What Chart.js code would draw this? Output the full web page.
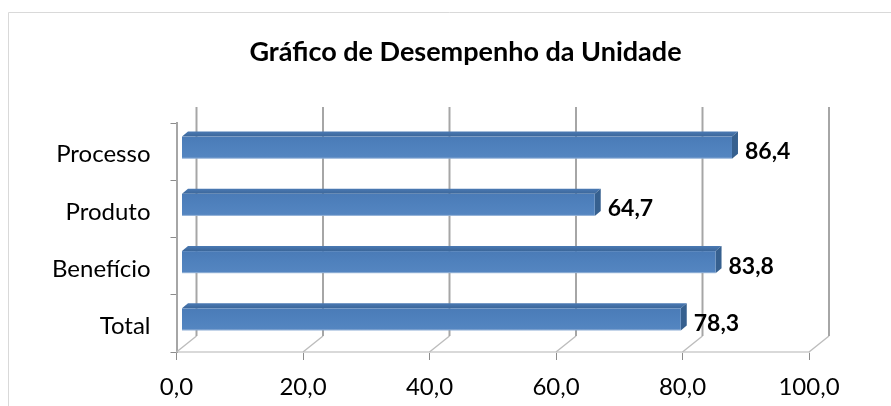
<!DOCTYPE html>
<html lang="pt">
<head>
  <meta charset="UTF-8">
  <title>Gráfico de Desempenho da Unidade</title>
  <script src="https://cdn.jsdelivr.net/npm/chart.js"></script>
  <style>
    html, body { margin: 0; padding: 0; background: #fff; }
    #wrap { width: 891px; height: 406px; }
  </style>
</head>
<body>
  <div id="wrap"><canvas id="chart" width="891" height="406"></canvas></div>

  <script>
    const categories = ['Processo', 'Produto', 'Benefício', 'Total'];
    const values = [86.4, 64.7, 83.8, 78.3];
    const xTicks = [0, 20, 40, 60, 80, 100];

    const FONT = 'Lato';
    const fmt = v => v.toFixed(1).replace('.', ',');

    // fake 3D: back wall offset and bar faces
    const wall = { dx: 20, dy: -16 };
    const bar = { start: 5, end: 9, lift: -4, dx: 6, dy: -5 };

    const frame = {
      id: 'frame',
      beforeDraw(chart) {
        const ctx = chart.ctx;
        ctx.save();
        ctx.strokeStyle = '#d9d9d9';
        ctx.lineWidth = 1;
        ctx.beginPath();
        ctx.moveTo(8.5, chart.height);
        ctx.lineTo(8.5, 12.5);
        ctx.lineTo(chart.width, 12.5);
        ctx.stroke();
        ctx.restore();
      },
      beforeDatasetsDraw(chart) {
        const { ctx, chartArea: a, scales: { x } } = chart;
        ctx.save();
        xTicks.forEach(v => {
          const fx = x.getPixelForValue(v);
          // floor
          ctx.strokeStyle = '#bdbdbd';
          ctx.lineWidth = 1.5;
          ctx.beginPath();
          ctx.moveTo(fx, a.bottom);
          ctx.lineTo(fx + wall.dx, a.bottom + wall.dy);
          ctx.stroke();
          // back wall
          ctx.strokeStyle = '#a6a6a6';
          ctx.lineWidth = 2;
          ctx.beginPath();
          ctx.moveTo(fx + wall.dx, a.bottom + wall.dy);
          ctx.lineTo(fx + wall.dx, a.top + wall.dy);
          ctx.stroke();
        });
        ctx.restore();
      },
      beforeDatasetDraw() {
        return false;
      },
      afterDatasetsDraw(chart) {
        const ctx = chart.ctx;
        const meta = chart.getDatasetMeta(0);
        ctx.save();
        meta.data.forEach((el, i) => {
          const p = el.getProps(['x', 'y', 'base', 'height'], true);
          const l = p.base + bar.start;
          const r = p.x + bar.end;
          const t = p.y - p.height / 2 + bar.lift;
          const b = t + p.height;

          // top face
          const gt = ctx.createLinearGradient(0, t + bar.dy, 0, t);
          gt.addColorStop(0, '#4a79b3');
          gt.addColorStop(1, '#3b6699');
          ctx.fillStyle = gt;
          ctx.beginPath();
          ctx.moveTo(l, t);
          ctx.lineTo(l + bar.dx, t + bar.dy);
          ctx.lineTo(r + bar.dx, t + bar.dy);
          ctx.lineTo(r, t);
          ctx.closePath();
          ctx.fill();

          // side face
          ctx.fillStyle = '#36608f';
          ctx.beginPath();
          ctx.moveTo(r, t);
          ctx.lineTo(r + bar.dx, t + bar.dy);
          ctx.lineTo(r + bar.dx, b + bar.dy);
          ctx.lineTo(r, b);
          ctx.closePath();
          ctx.fill();

          // front face
          const gf = ctx.createLinearGradient(0, t, 0, b);
          gf.addColorStop(0, '#4a7bb7');
          gf.addColorStop(0.5, '#4f81bd');
          gf.addColorStop(1, '#5586c1');
          ctx.fillStyle = gf;
          ctx.fillRect(l, t, r - l, b - t);
          ctx.fillStyle = 'rgba(255,255,255,0.35)';
          ctx.fillRect(l, b - 1, r - l, 1);

          // value label
          ctx.fillStyle = '#000';
          ctx.font = 'bold 23px ' + FONT;
          ctx.textAlign = 'left';
          ctx.textBaseline = 'middle';
          ctx.fillText(fmt(values[i]), r + bar.dx + 7, p.y);
        });
        ctx.restore();
      }
    };

    new Chart(document.getElementById('chart'), {
      type: 'bar',
      data: {
        labels: categories,
        datasets: [{
          data: values,
          backgroundColor: '#4f81bd',
          borderWidth: 0,
          barPercentage: 0.385,
          categoryPercentage: 1
        }]
      },
      options: {
        indexAxis: 'y',
        responsive: false,
        animation: false,
        layout: { padding: { left: 40, right: 0, top: 0, bottom: 0 } },
        plugins: {
          legend: { display: false },
          tooltip: { enabled: false },
          title: {
            display: true,
            text: 'Gráfico de Desempenho da Unidade',
            color: '#000',
            font: { family: FONT, size: 27, weight: 'bold' },
            padding: { top: 36, bottom: 54.6 }
          }
        },
        scales: {
          x: {
            min: 0,
            max: 100,
            afterBuildTicks: s => { s.ticks = xTicks.map(v => ({ value: v })); },
            afterFit: s => { s.height = 54; },
            ticks: {
              callback: v => fmt(v),
              color: '#000',
              font: { family: FONT, size: 24 },
              padding: 13,
              maxRotation: 0
            },
            grid: { drawOnChartArea: false, drawTicks: true, tickLength: 8, color: '#8c8c8c' },
            border: { color: '#d9d9d9', width: 2 }
          },
          y: {
            afterFit: s => { s.width = 136.5; },
            ticks: {
              color: '#000',
              font: { family: FONT, size: 24 },
              padding: 20,
              labelOffset: 3
            },
            grid: { offset: true, drawOnChartArea: false, drawTicks: true, tickLength: 6, color: '#8c8c8c' },
            border: { color: '#a6a6a6', width: 2 }
          },
          pad: {
            type: 'linear',
            position: 'right',
            display: true,
            afterFit: s => { s.width = 82; },
            ticks: { display: false },
            grid: { display: false },
            border: { display: false }
          }
        }
      },
      plugins: [frame]
    });
  </script>
</body>
</html>
